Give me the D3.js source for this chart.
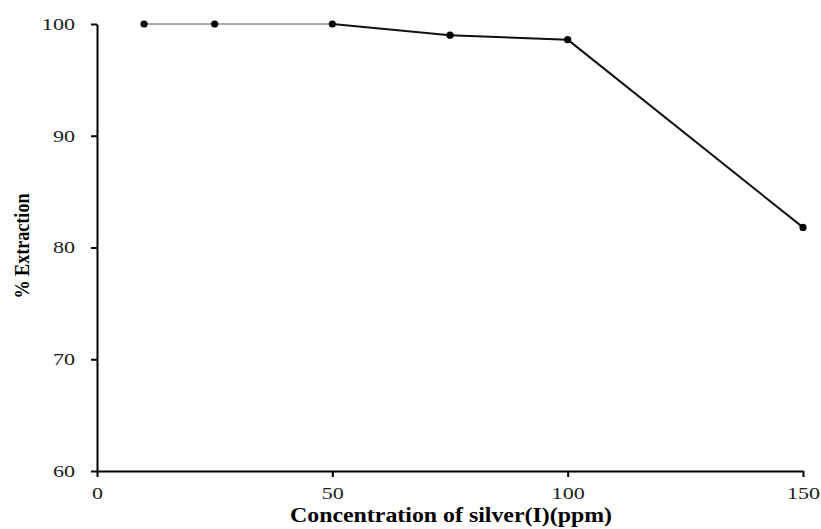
<!DOCTYPE html>
<html><head><meta charset="utf-8">
<script src="https://cdn.jsdelivr.net/npm/d3@7"></script>
<style>body{margin:0;background:#fff}svg{display:block}</style>
</head><body>
<script>
const concentration = [10, 25, 50, 75, 100, 150];
const extraction = [100, 100, 100, 99.0, 98.6, 81.8];
const xTicks = [0, 50, 100, 150];
const yTicks = [60, 70, 80, 90, 100];
const xTitle = "Concentration of silver(I)(ppm)";
const yTitle = "% Extraction";

const W = 821, H = 529;
const svg = d3.select("body").append("svg").attr("width", W).attr("height", H);
const x = d3.scaleLinear().domain([0, 150]).range([97, 803]);
const y = d3.scaleLinear().domain([60, 100]).range([471, 24]);
const font = "'Liberation Serif','Times New Roman',serif";
const sx = 1.3;

const xa = svg.append("g").attr("transform", `translate(0,${y(60)})`)
  .call(d3.axisBottom(x).tickValues(xTicks).tickSize(6).tickSizeOuter(0).tickPadding(10));
const ya = svg.append("g").attr("transform", `translate(${x(0)},0)`)
  .call(d3.axisLeft(y).tickValues(yTicks).tickSize(6).tickSizeOuter(0).tickPadding(16));
[xa, ya].forEach(g => {
  g.select(".domain").attr("stroke", "#000").attr("stroke-width", 2);
  g.selectAll(".tick line").attr("stroke", "#000").attr("stroke-width", 2);
  g.selectAll(".tick text").attr("fill", "#222").style("font-family", font).style("font-size", "17px");
});
xa.selectAll(".tick text").attr("transform", `scale(${sx},1)`);
ya.selectAll(".tick text").attr("x", -22 / sx).attr("transform", `scale(${sx},1)`);

const pts = concentration.map((c, i) => [c, extraction[i]]);
for (let i = 0; i < pts.length - 1; i++) {
  const thin = pts[i + 1][0] <= 50;
  svg.append("line")
    .attr("x1", x(pts[i][0])).attr("y1", y(pts[i][1]))
    .attr("x2", x(pts[i + 1][0])).attr("y2", y(pts[i + 1][1]))
    .attr("stroke", thin ? "#555" : "#111").attr("stroke-width", thin ? 1 : 2);
}
svg.selectAll("circle.pt").data(pts).enter().append("circle")
  .attr("class", "pt").attr("cx", d => x(d[0])).attr("cy", d => y(d[1])).attr("r", 3.6).attr("fill", "#000");

svg.append("text").attr("x", 451).attr("y", 522).attr("text-anchor", "middle")
  .style("font-family", font).style("font-weight", "bold").style("font-size", "20px")
  .attr("textLength", 322).attr("lengthAdjust", "spacingAndGlyphs").text(xTitle);
svg.append("text").attr("transform", "translate(29,246) rotate(-90)").attr("text-anchor", "middle")
  .style("font-family", font).style("font-weight", "bold").style("font-size", "20px")
  .attr("textLength", 105).attr("lengthAdjust", "spacingAndGlyphs").text(yTitle);
</script>
</body></html>
